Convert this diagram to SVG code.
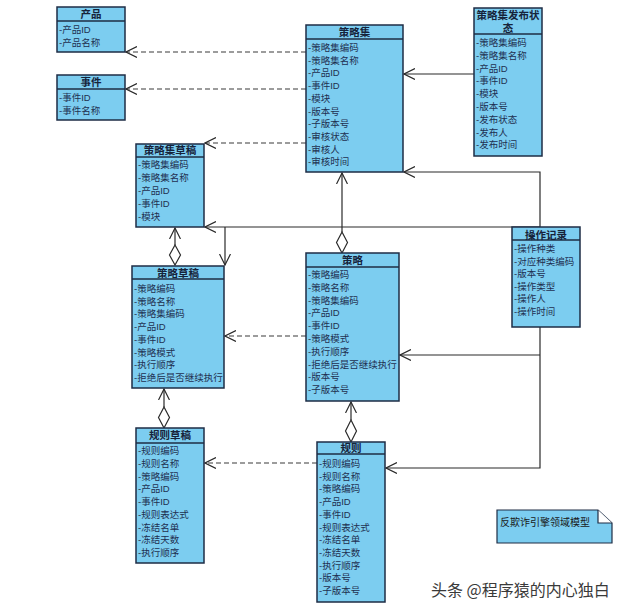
<svg xmlns="http://www.w3.org/2000/svg" width="640" height="613" viewBox="0 0 640 613">
<style>
.box{fill:#7ccdf0;stroke:#1e2d45;stroke-width:1.5}
.sep{stroke:#1e2d45;stroke-width:1.5}
.h{font-family:"Liberation Sans","Noto Sans CJK SC",sans-serif;font-size:10.5px;font-weight:bold;fill:#16233a;text-anchor:middle}
.i{font-family:"Liberation Sans","Noto Sans CJK SC",sans-serif;font-size:9.5px;fill:#1f3050}
.ln{fill:none;stroke:#2a2a2a;stroke-width:1.2}
.da{fill:none;stroke:#3a3a3a;stroke-width:1.2;stroke-dasharray:5,3}
.dm{fill:#ffffff;stroke:#2a2a2a;stroke-width:1.2}
.note{fill:#7ccdf0;stroke:#1e2d45;stroke-width:1.2}
.nt{font-family:"Liberation Sans","Noto Sans CJK SC",sans-serif;font-size:10px;fill:#1a1a1a}
.wm{font-family:"Noto Sans CJK SC",sans-serif;font-size:16px;fill:#3a3a3a}
</style>
<defs>
<marker id="oa" viewBox="0 0 12 12" refX="11" refY="6" markerWidth="12" markerHeight="12" markerUnits="userSpaceOnUse" orient="auto">
<path d="M0,0.5 L11,6 L0,11.5" fill="none" stroke="#2a2a2a" stroke-width="1.2"/>
</marker>
</defs>
<rect width="640" height="613" fill="#ffffff"/>

<g id="connectors">
<path class="da" d="M306,52 H126" marker-end="url(#oa)"/>
<path class="da" d="M306,89 H126" marker-end="url(#oa)"/>
<path class="da" d="M306,143 H205" marker-end="url(#oa)"/>
<path class="ln" d="M474,74 H404" marker-end="url(#oa)"/>
<path class="ln" d="M540,227 V172 H404" marker-end="url(#oa)"/>
<path class="ln" d="M540,227 H205" marker-end="url(#oa)"/>
<path class="ln" d="M225,227 V265" marker-end="url(#oa)"/>
<path class="ln" d="M342,232 V173" marker-end="url(#oa)"/>
<polygon class="dm" points="342,232 347.5,242.5 342,253 336.5,242.5"/>
<path class="ln" d="M175,245 V228" marker-end="url(#oa)"/>
<polygon class="dm" points="175,245 180.5,255 175,265 169.5,255"/>
<path class="da" d="M306,336 H225" marker-end="url(#oa)"/>
<path class="ln" d="M540,327 V468 H386" marker-end="url(#oa)"/>
<path class="ln" d="M540,355 H400" marker-end="url(#oa)"/>
<path class="ln" d="M164,407 V389" marker-end="url(#oa)"/>
<polygon class="dm" points="164,407 169.5,417.5 164,428 158.5,417.5"/>
<path class="ln" d="M351,420 V402" marker-end="url(#oa)"/>
<polygon class="dm" points="351,420 356.5,431 351,442 345.5,431"/>
<path class="da" d="M317,463 H205" marker-end="url(#oa)"/>
</g>

<g id="chanpin">
<rect class="box" x="57" y="7" width="68" height="45"/>
<line class="sep" x1="57" y1="21" x2="125" y2="21"/>
<text class="h" x="91" y="18">产品</text>
<text class="i" x="59" y="33">-产品ID</text>
<text class="i" x="59" y="46">-产品名称</text>
</g>

<g id="shijian">
<rect class="box" x="57" y="75" width="68" height="45"/>
<line class="sep" x1="57" y1="89" x2="125" y2="89"/>
<text class="h" x="91" y="86">事件</text>
<text class="i" x="59" y="101">-事件ID</text>
<text class="i" x="59" y="114">-事件名称</text>
</g>

<g id="celueji">
<rect class="box" x="306" y="25" width="97" height="147"/>
<line class="sep" x1="306" y1="39" x2="403" y2="39"/>
<text class="h" x="354.5" y="36">策略集</text>
<text class="i" x="308" y="51">-策略集编码</text>
<text class="i" x="308" y="63.7">-策略集名称</text>
<text class="i" x="308" y="76.4">-产品ID</text>
<text class="i" x="308" y="89.1">-事件ID</text>
<text class="i" x="308" y="101.8">-模块</text>
<text class="i" x="308" y="114.5">-版本号</text>
<text class="i" x="308" y="127.2">-子版本号</text>
<text class="i" x="308" y="139.9">-审核状态</text>
<text class="i" x="308" y="152.6">-审核人</text>
<text class="i" x="308" y="165.3">-审核时间</text>
</g>

<g id="celueji-fabu">
<rect class="box" x="474" y="8" width="68" height="148"/>
<line class="sep" x1="474" y1="34" x2="542" y2="34"/>
<text class="h" x="508" y="19">策略集发布状</text>
<text class="h" x="508" y="32">态</text>
<text class="i" x="476" y="46">-策略集编码</text>
<text class="i" x="476" y="58.8">-策略集名称</text>
<text class="i" x="476" y="71.6">-产品ID</text>
<text class="i" x="476" y="84.4">-事件ID</text>
<text class="i" x="476" y="97.2">-模块</text>
<text class="i" x="476" y="110">-版本号</text>
<text class="i" x="476" y="122.8">-发布状态</text>
<text class="i" x="476" y="135.6">-发布人</text>
<text class="i" x="476" y="148.4">-发布时间</text>
</g>

<g id="celueji-caogao">
<rect class="box" x="136" y="144" width="68" height="83"/>
<line class="sep" x1="136" y1="157" x2="204" y2="157"/>
<text class="h" x="170" y="154">策略集草稿</text>
<text class="i" x="138" y="168">-策略集编码</text>
<text class="i" x="138" y="181">-策略集名称</text>
<text class="i" x="138" y="194">-产品ID</text>
<text class="i" x="138" y="207">-事件ID</text>
<text class="i" x="138" y="220">-模块</text>
</g>

<g id="celue-caogao">
<rect class="box" x="132" y="266" width="92" height="122"/>
<line class="sep" x1="132" y1="279" x2="224" y2="279"/>
<text class="h" x="178" y="277">策略草稿</text>
<text class="i" x="134" y="292">-策略编码</text>
<text class="i" x="134" y="304.7">-策略名称</text>
<text class="i" x="134" y="317.4">-策略集编码</text>
<text class="i" x="134" y="330.1">-产品ID</text>
<text class="i" x="134" y="342.8">-事件ID</text>
<text class="i" x="134" y="355.5">-策略模式</text>
<text class="i" x="134" y="368.2">-执行顺序</text>
<text class="i" x="134" y="380.9">-拒绝后是否继续执行</text>
</g>

<g id="celue">
<rect class="box" x="306" y="253" width="93" height="148"/>
<line class="sep" x1="306" y1="267" x2="399" y2="267"/>
<text class="h" x="352.5" y="264">策略</text>
<text class="i" x="308" y="278">-策略编码</text>
<text class="i" x="308" y="290.8">-策略名称</text>
<text class="i" x="308" y="303.6">-策略集编码</text>
<text class="i" x="308" y="316.4">-产品ID</text>
<text class="i" x="308" y="329.2">-事件ID</text>
<text class="i" x="308" y="342">-策略模式</text>
<text class="i" x="308" y="354.8">-执行顺序</text>
<text class="i" x="308" y="367.6">-拒绝后是否继续执行</text>
<text class="i" x="308" y="380.4">-版本号</text>
<text class="i" x="308" y="393.2">-子版本号</text>
</g>

<g id="caozuo-jilu">
<rect class="box" x="512" y="227" width="68" height="100"/>
<line class="sep" x1="512" y1="240" x2="580" y2="240"/>
<text class="h" x="546" y="239">操作记录</text>
<text class="i" x="514" y="252">-操作种类</text>
<text class="i" x="514" y="264.6">-对应种类编码</text>
<text class="i" x="514" y="277.2">-版本号</text>
<text class="i" x="514" y="289.8">-操作类型</text>
<text class="i" x="514" y="302.4">-操作人</text>
<text class="i" x="514" y="315">-操作时间</text>
</g>

<g id="guize-caogao">
<rect class="box" x="136" y="428" width="68" height="135"/>
<line class="sep" x1="136" y1="443" x2="204" y2="443"/>
<text class="h" x="170" y="439">规则草稿</text>
<text class="i" x="138" y="454">-规则编码</text>
<text class="i" x="138" y="466.75">-规则名称</text>
<text class="i" x="138" y="479.5">-策略编码</text>
<text class="i" x="138" y="492.25">-产品ID</text>
<text class="i" x="138" y="505">-事件ID</text>
<text class="i" x="138" y="517.75">-规则表达式</text>
<text class="i" x="138" y="530.5">-冻结名单</text>
<text class="i" x="138" y="543.25">-冻结天数</text>
<text class="i" x="138" y="556">-执行顺序</text>
</g>

<g id="guize">
<rect class="box" x="317" y="442" width="68" height="160"/>
<line class="sep" x1="317" y1="454" x2="385" y2="454"/>
<text class="h" x="351" y="452">规则</text>
<text class="i" x="319" y="467">-规则编码</text>
<text class="i" x="319" y="479.7">-规则名称</text>
<text class="i" x="319" y="492.4">-策略编码</text>
<text class="i" x="319" y="505.1">-产品ID</text>
<text class="i" x="319" y="517.8">-事件ID</text>
<text class="i" x="319" y="530.5">-规则表达式</text>
<text class="i" x="319" y="543.2">-冻结名单</text>
<text class="i" x="319" y="555.9">-冻结天数</text>
<text class="i" x="319" y="568.6">-执行顺序</text>
<text class="i" x="319" y="581.3">-版本号</text>
<text class="i" x="319" y="594">-子版本号</text>
</g>

<g id="note">
<path class="note" d="M497,510 H598 L612,523 V543 H497 Z"/>
<path class="note" d="M598,510 V523 H612" style="fill:#ffffff"/>
<text class="nt" x="500" y="526">反欺诈引擎领域模型</text>
</g>

<text class="wm" x="431" y="596">头条 @程序猿的内心独白</text>
</svg>
